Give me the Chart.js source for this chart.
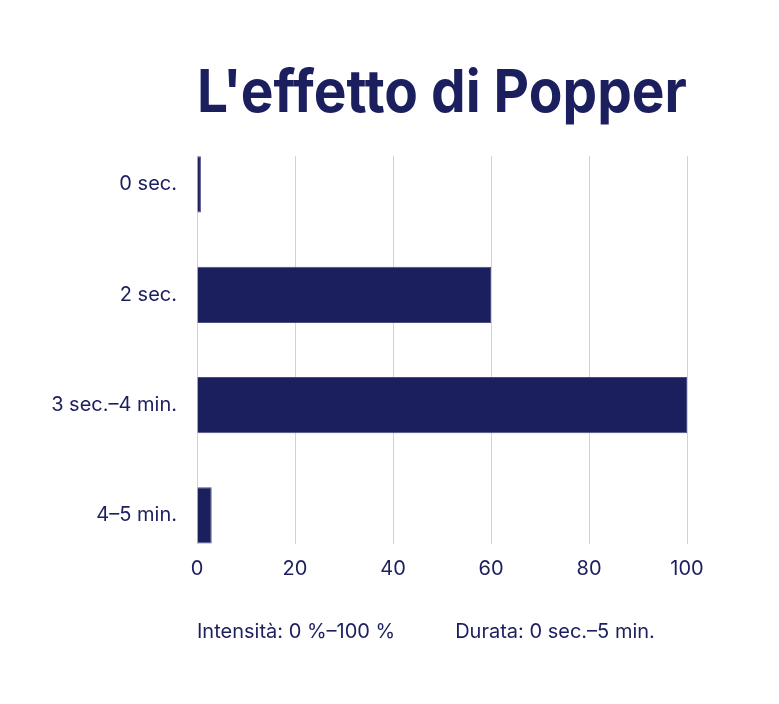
<!DOCTYPE html>
<html>
<head>
<meta charset="utf-8">
<script src="https://cdn.jsdelivr.net/npm/chart.js@4"></script>
<style>
  html, body { margin: 0; padding: 0; background: #ffffff; }
  #wrap { width: 779px; height: 704px; }
</style>
</head>
<body>
<div id="wrap"><canvas id="popper-chart" width="779" height="704"></canvas></div>
<script>
// chart data
const categories = ['0 sec.', '2 sec.', '3 sec.\u20134 min.', '4\u20135 min.'];
const intensity = [0.8, 60, 100, 3];
const xTicks = [0, 20, 40, 60, 80, 100];
const footerParts = ['Intensit\u00e0: 0 %\u2013100 %', 'Durata: 0 sec.\u20135 min.'];

const navy = '#1c1f5e';
const fontFamily = "Inter, 'Noto Sans', sans-serif";

// bars placed on a numeric index axis so the grid spans only the bar band
const points = [];
for (let i = 0; i < categories.length; i++) {
    points.push({ x: intensity[i], y: i });
}

new Chart(document.getElementById('popper-chart'), {
    type: 'bar',
    data: {
        datasets: [
            {
                label: 'Intensità',
                data: points,
                backgroundColor: navy,
                borderColor: '#4a4d80',
                borderWidth: 1,
                barPercentage: 0.51,
                categoryPercentage: 1
            }
        ]
    },
    options: {
        indexAxis: 'y',
        responsive: false,
        animation: false,
        layout: {
            padding: { left: 0, right: 92, top: 0, bottom: 50 }
        },
        scales: {
            x: {
                type: 'linear',
                min: 0,
                max: 100,
                z: 1,
                afterFit: function (scale) { scale.height = 50; },
                afterBuildTicks: function (scale) {
                    scale.ticks = xTicks.map(v => ({ value: v }));
                },
                grid: { color: '#d2d2d6', drawTicks: false },
                border: { display: false },
                ticks: {
                    padding: 13,
                    color: navy,
                    font: { family: fontFamily, size: 20 }
                }
            },
            y: {
                type: 'linear',
                reverse: true,
                offset: false,
                min: -0.26,
                max: 3.26,
                afterFit: function (scale) { scale.width = 197; },
                afterBuildTicks: function (scale) {
                    scale.ticks = categories.map((c, i) => ({ value: i }));
                },
                grid: { display: false, drawTicks: false, offset: false },
                border: { display: false },
                ticks: {
                    padding: 20,
                    autoSkip: false,
                    color: navy,
                    font: { family: fontFamily, size: 20 },
                    callback: function (v) { return categories[v]; }
                }
            }
        },
        plugins: {
            legend: { display: false },
            tooltip: { enabled: false },
            title: {
                display: true,
                text: "L'effetto di Popper",
                color: navy,
                fullSize: false,
                font: { family: fontFamily, size: 59, weight: 'bold', lineHeight: 1.2 },
                padding: { top: 59, bottom: 26 }
            },
            subtitle: {
                display: true,
                position: 'bottom',
                align: 'start',
                fullSize: false,
                text: footerParts.join('\u2003\u2003\u2003'),
                color: navy,
                font: { family: fontFamily, size: 20, lineHeight: 1.2 },
                padding: { top: 26, bottom: 10 }
            }
        }
    }
});
</script>
</body>
</html>
